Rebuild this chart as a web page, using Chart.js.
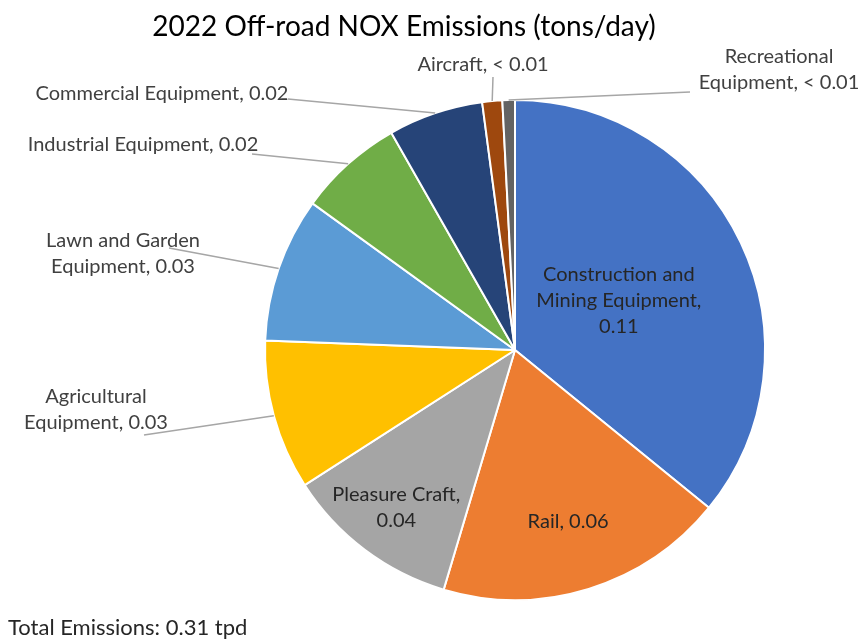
<!DOCTYPE html>
<html>
<head>
<meta charset="utf-8">
<script src="https://cdn.jsdelivr.net/npm/chart.js@4/dist/chart.umd.min.js"></script>
<style>
  html, body { margin: 0; padding: 0; background: #fff; }
  #wrap { width: 864px; height: 639px; }
</style>
</head>
<body>
<div id="wrap"><canvas id="pie" width="864" height="639"></canvas></div>
<script>
"use strict";

// data (tons/day)
var categories = [
    'Construction and Mining Equipment',
    'Rail',
    'Pleasure Craft',
    'Agricultural Equipment',
    'Lawn and Garden Equipment',
    'Industrial Equipment',
    'Commercial Equipment',
    'Aircraft',
    'Recreational Equipment'
];
var emissions = [0.111, 0.058, 0.035, 0.030, 0.029, 0.021, 0.019, 0.004, 0.0025];
var sliceColors = ['#4472C4', '#ED7D31', '#A5A5A5', '#FFC000', '#5B9BD5',
                   '#70AD47', '#264478', '#9E480E', '#636363'];
var chartTitle = '2022 Off-road NOX Emissions (tons/day)';
var totalLabel = 'Total Emissions: ';
var totalUnit = ' tpd';

var FONT = 'Lato, "Open Sans", sans-serif';

// label placement: inside labels sit on the slice's mid angle,
// outside ones get a box centre and a leader line start
var labelLayout = [
    {inside: 0.46, wrap: 190},
    {inside: 0.72, wrap: 220},
    {inside: 0.79, wrap: 150},
    {x: 96, y: 410, wrap: 160, lx: 144, ly: 435},
    {x: 123, y: 254, wrap: 170, lx: 169, ly: 248},
    {x: 143, y: 145, wrap: 400, lx: 252, ly: 154},
    {x: 162, y: 94, wrap: 400, lx: 288, ly: 99},
    {x: 483, y: 65, wrap: 400, lx: 493, ly: 77},
    {x: 779, y: 70, wrap: 185, lx: 690, ly: 92}
];

function fmtValue(v) {
    if (v < 0.01) {
        return '< 0.01';
    }
    return (Math.round(v * 100) / 100).toFixed(2);
}

function wrapText(ctx, text, maxWidth) {
    var words = text.split(' ');
    var lines = [];
    var cur = '';
    for (var i = 0; i < words.length; ++i) {
        var test = cur ? cur + ' ' + words[i] : words[i];
        // keep "<" glued to its number
        if (cur && ctx.measureText(test).width > maxWidth && words[i - 1] !== '<') {
            lines.push(cur);
            cur = words[i];
        } else {
            cur = test;
        }
    }
    if (cur) {
        lines.push(cur);
    }
    return lines;
}

var labelPlugin = {
    id: 'pieLabels',
    afterDraw: function(chart) {
        var ctx = chart.ctx;
        var arcs = chart.getDatasetMeta(0).data;
        var lineH = 26;

        ctx.save();
        ctx.textAlign = 'center';
        ctx.textBaseline = 'middle';

        // title
        ctx.fillStyle = '#000000';
        ctx.font = '28px ' + FONT;
        ctx.fillText(chartTitle, 404, 27);

        ctx.font = '20px ' + FONT;
        for (var i = 0; i < arcs.length; ++i) {
            var arc = arcs[i];
            var lay = labelLayout[i];
            var mid = (arc.startAngle + arc.endAngle) / 2;
            var text = categories[i] + ', ' + fmtValue(emissions[i]);
            var lines = wrapText(ctx, text, lay.wrap);
            var cx, cy;

            if (lay.inside !== undefined) {
                var r = arc.outerRadius * lay.inside;
                cx = arc.x + Math.cos(mid) * r;
                cy = arc.y + Math.sin(mid) * r;
            } else {
                cx = lay.x;
                cy = lay.y;
                ctx.strokeStyle = '#A6A6A6';
                ctx.lineWidth = 1.5;
                ctx.beginPath();
                ctx.moveTo(lay.lx, lay.ly);
                ctx.lineTo(arc.x + Math.cos(mid) * arc.outerRadius,
                           arc.y + Math.sin(mid) * arc.outerRadius);
                ctx.stroke();
            }

            ctx.fillStyle = lay.inside !== undefined ? '#262626' : '#404040';
            var top = cy - (lines.length - 1) * lineH / 2;
            for (var j = 0; j < lines.length; ++j) {
                ctx.fillText(lines[j], cx, top + j * lineH);
            }
        }

        // total at the bottom
        var total = emissions.reduce(function(a, b) { return a + b; }, 0);
        ctx.textAlign = 'left';
        ctx.fillStyle = '#262626';
        ctx.font = '22px ' + FONT;
        ctx.fillText(totalLabel + total.toFixed(2) + totalUnit, 8, 628);
        ctx.restore();
    }
};

new Chart(document.getElementById('pie'), {
    type: 'pie',
    data: {
        labels: categories,
        datasets: [{
            data: emissions,
            backgroundColor: sliceColors,
            borderColor: '#FFFFFF',
            borderWidth: 2
        }]
    },
    options: {
        responsive: false,
        animation: false,
        devicePixelRatio: 1,
        layout: {
            padding: {top: 99, bottom: 38, left: 264, right: 98}
        },
        plugins: {
            legend: {display: false},
            title: {display: false},
            tooltip: {enabled: false}
        }
    },
    plugins: [labelPlugin]
});
</script>
</body>
</html>
